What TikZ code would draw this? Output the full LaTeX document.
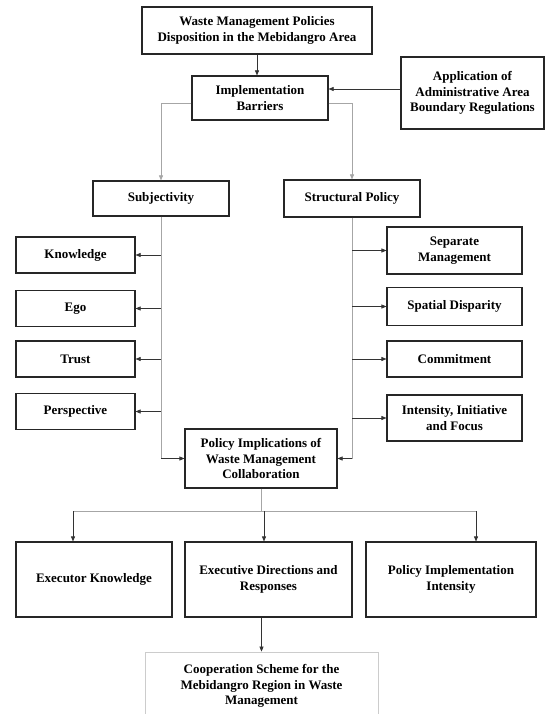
\documentclass[tikz,border=0pt]{standalone}
\usepackage{fontspec}
\setmainfont{Liberation Serif}
\usepackage{tikz}
\usetikzlibrary{arrows.meta,positioning,calc}

\begin{document}
\begin{tikzpicture}[x=1pt, y=-1pt,
  every node/.style={font=\fontsize{13}{15.5}\selectfont\bfseries, align=center},
  box/.style={draw=black!85, line width=1.1pt, inner sep=2pt},
  arr/.style={-{Triangle[length=5pt,width=4pt]}, black!80, line width=0.6pt},
  trunk/.style={gray!70, line width=0.8pt}]
  \useasboundingbox (0,0) rectangle (545,714);
  % Top of the chart
  \node[box, minimum width=230pt, minimum height=47pt] (disp) at (257,30.5) {Waste Management Policies\\Disposition in the Mebidangro Area};
  \node[box, minimum width=136pt, minimum height=44pt] (impl) at (260,98) {Implementation\\Barriers};
  \node[box, minimum width=143pt, minimum height=72pt] (app) at (472.5,93) {Application of\\Administrative Area\\Boundary Regulations};
  % Two barrier groups
  \node[box, minimum width=136pt, minimum height=35pt] (subj) at (161,198.5) {Subjectivity};
  \node[box, minimum width=136pt, minimum height=37pt] (struct) at (352,198.5) {Structural Policy};
  % Subjectivity factors
  \node[box, minimum width=119pt, minimum height=36pt] (know) at (75.5,255) {Knowledge};
  \node[box, minimum width=119pt, minimum height=36pt] (ego) at (75.5,308.5) {Ego};
  \node[box, minimum width=119pt, minimum height=36pt] (trust) at (75.5,359) {Trust};
  \node[box, minimum width=119pt, minimum height=36pt] (persp) at (75.5,411.5) {Perspective};
  % Structural factors
  \node[box, minimum width=135pt, minimum height=47pt] (separ) at (454.5,250.5) {Separate\\Management};
  \node[box, minimum width=135pt, minimum height=38pt] (spat) at (454.5,306.5) {Spatial Disparity};
  \node[box, minimum width=135pt, minimum height=36pt] (commit) at (454.5,359) {Commitment};
  \node[box, minimum width=135pt, minimum height=46pt] (intens) at (454.5,418) {Intensity, Initiative\\and Focus};
  % Implications
  \node[box, minimum width=152pt, minimum height=59pt] (policy) at (261,458.5) {Policy Implications of\\Waste Management\\Collaboration};
  \node[box, minimum width=156pt, minimum height=75pt] (execk) at (94,579.5) {Executor Knowledge};
  \node[box, minimum width=167pt, minimum height=75pt] (execd) at (268.5,579.5) {Executive Directions and\\Responses};
  \node[box, minimum width=170pt, minimum height=75pt] (pint) at (451,579.5) {Policy Implementation\\Intensity};
  \node[draw=gray!40, line width=0.8pt, minimum width=233pt, minimum height=68pt] (coop) at (261.5,686) {Cooperation Scheme for the\\Mebidangro Region in Waste\\Management};
  % Connectors at the top
  \draw[arr] (disp.south) -- (disp.south |- impl.north);
  \draw[arr] ([yshift=4pt]app.west) -- ([yshift=4pt]app.west -| impl.east);
  \draw[arr, gray!70] ([yshift=-5pt]impl.west) -| (subj.north);
  \draw[arr, gray!70] ([yshift=-5pt]impl.east) -| (struct.north);
  % Left trunk
  \draw[trunk] (subj.south) -- (subj.south |- policy.west);
  \draw[arr] (subj.south |- policy.west) -- (policy.west);
  \foreach \n in {know,ego,trust,persp}
    \draw[arr] (subj.south |- \n.east) -- (\n.east);
  % Right trunk
  \draw[trunk] (struct.south) -- (struct.south |- policy.east);
  \draw[arr] (struct.south |- policy.east) -- (policy.east);
  \foreach \n in {separ,spat,commit,intens}
    \draw[arr] (struct.south |- \n.west) -- (\n.west);
  % Bottom bus
  \coordinate (busL) at (73,511);
  \coordinate (busM) at (264,511);
  \coordinate (busR) at (476,511);
  \draw[trunk] (policy.south) -- (policy.south |- busL);
  \draw[trunk] (busL) -- (busR);
  \draw[arr] (busL) -- (busL |- execk.north);
  \draw[arr] (busM) -- (busM |- execd.north);
  \draw[arr] (busR) -- (busR |- pint.north);
  \draw[arr] (coop.north |- execd.south) -- (coop.north);
\end{tikzpicture}
\end{document}
